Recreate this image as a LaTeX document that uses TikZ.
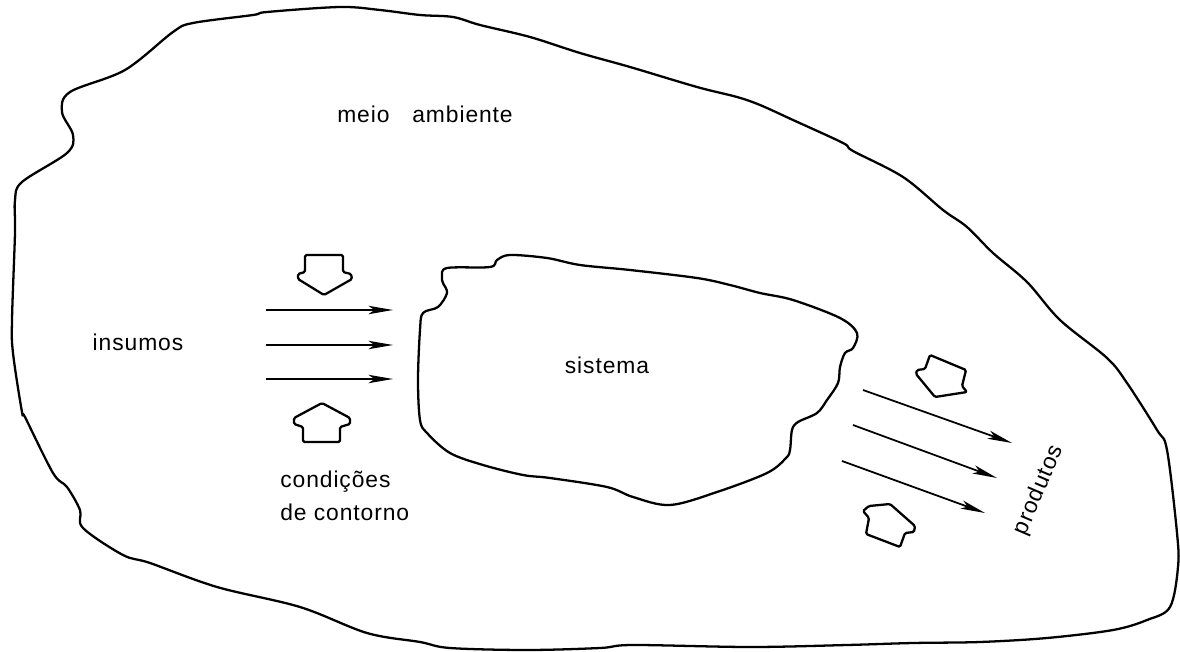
\documentclass[tikz,border=0pt]{standalone}
\usepackage{fontspec}
\setmainfont{Liberation Sans}
\usetikzlibrary{arrows.meta,positioning}

\begin{document}
\begin{tikzpicture}[
    x=0.02cm, y=-0.02cm,
    contorno/.style={line width=1.3pt,line join=round},
    seta/.style={-{Stealth[length=14pt,width=4.8pt,inset=3.5pt]},line width=1pt},
    setalarga/.style={line width=1.3pt,line join=round,rounded corners=0.8pt},
    rotulo/.style={font=\fontsize{13}{17.6}\selectfont\addfontfeature{LetterSpace=4},inner sep=0pt}
]
\useasboundingbox (0,0) rectangle (1180,652);

\draw[contorno] plot[smooth cycle,tension=0.55] coordinates {
    (12,320) (13,353) (22,412) (25,417) (53,473) (67,487) (80,510) (83,528)
    (123,555) (150,563) (217,587) (300,607) (367,633) (420,642) (450,648)
    (527,650) (600,648) (633,645) (750,647) (847,645) (913,643) (980,642)
    (1047,638) (1113,630) (1147,620) (1170,607) (1178,567) (1177,533)
    (1167,450) (1157,430) (1127,383) (1107,358) (1060,320) (1027,282)
    (993,253) (967,227) (943,210) (903,177) (853,151) (843,143) (793,120)
    (760,105) (737,97) (697,87) (630,67) (580,53) (530,37) (480,25)
    (453,17) (420,15) (380,10) (340,7) (267,12) (253,15) (193,23) (173,32)
    (125,70) (70,92) (62,112) (73,135) (67,153) (22,182) (15,200) (15,233)};

\draw[contorno] plot[smooth cycle,tension=0.55] coordinates {
    (442,277) (447,268) (490,267) (497,260) (510,255) (547,258) (580,265)
    (630,270) (697,278) (730,285) (760,293) (793,300) (840,318) (857,333)
    (853,348) (845,353) (840,367) (838,383) (827,400) (817,413) (798,422)
    (792,430) (790,450) (786,458) (767,473) (717,492) (670,505) (633,497)
    (607,487) (550,478) (523,475) (483,465) (450,453) (427,433) (420,420)
    (418,380) (420,330) (423,313) (438,307) (447,293) (443,283)};

\node[rotulo,anchor=base] (ambiente) at (425,123) {meio\hspace{13pt}ambiente};
\node[rotulo,anchor=base] (insumos) at (138,350) {insumos};
\node[rotulo,anchor=base] (sistema) at (607,373) {sistema};
\node[rotulo,anchor=base west] (condicoes) at (280,487) {condições};
\node[rotulo,anchor=base west] (contorno) at (280,520) {de contorno};
\node[rotulo,rotate=67] (produtos) at (1039,490) {produtos};

\foreach \y [count=\i] in {310,345,379} {
    \coordinate (ent\i) at (266,\y);
    \coordinate (chega\i) at (393,\y);
    \draw[seta] (ent\i) -- (chega\i);
}
\foreach \xa/\ya/\xb/\yb [count=\i] in {863/390/1012/443,853/425/997/478,842/461/985/513} {
    \coordinate (parte\i) at (\xa,\ya);
    \coordinate (sai\i) at (\xb,\yb);
    \draw[seta] (parte\i) -- (sai\i);
}

\draw[setalarga] (305,255) -- (343,255) -- (343,272) -- (351,274) -- (352,279)
    -- (324,295) -- (298,279) -- (298,274) -- (305,272) -- cycle;
\draw[setalarga] (322,403) -- (350,418) -- (350,424) -- (340,427) -- (340,442)
    -- (303,442) -- (303,427) -- (294,424) -- (294,418) -- cycle;
\draw[setalarga] (930,355) -- (966,370) -- (962,386) -- (967,392) -- (935,397)
    -- (916,374) -- (917,370) -- (925,369) -- cycle;
\draw[setalarga] (863,511) -- (869,506) -- (890,504) -- (915,526) -- (914,532)
    -- (905,533) -- (900,547) -- (866,534) -- (869,518) -- cycle;
\end{tikzpicture}
\end{document}
